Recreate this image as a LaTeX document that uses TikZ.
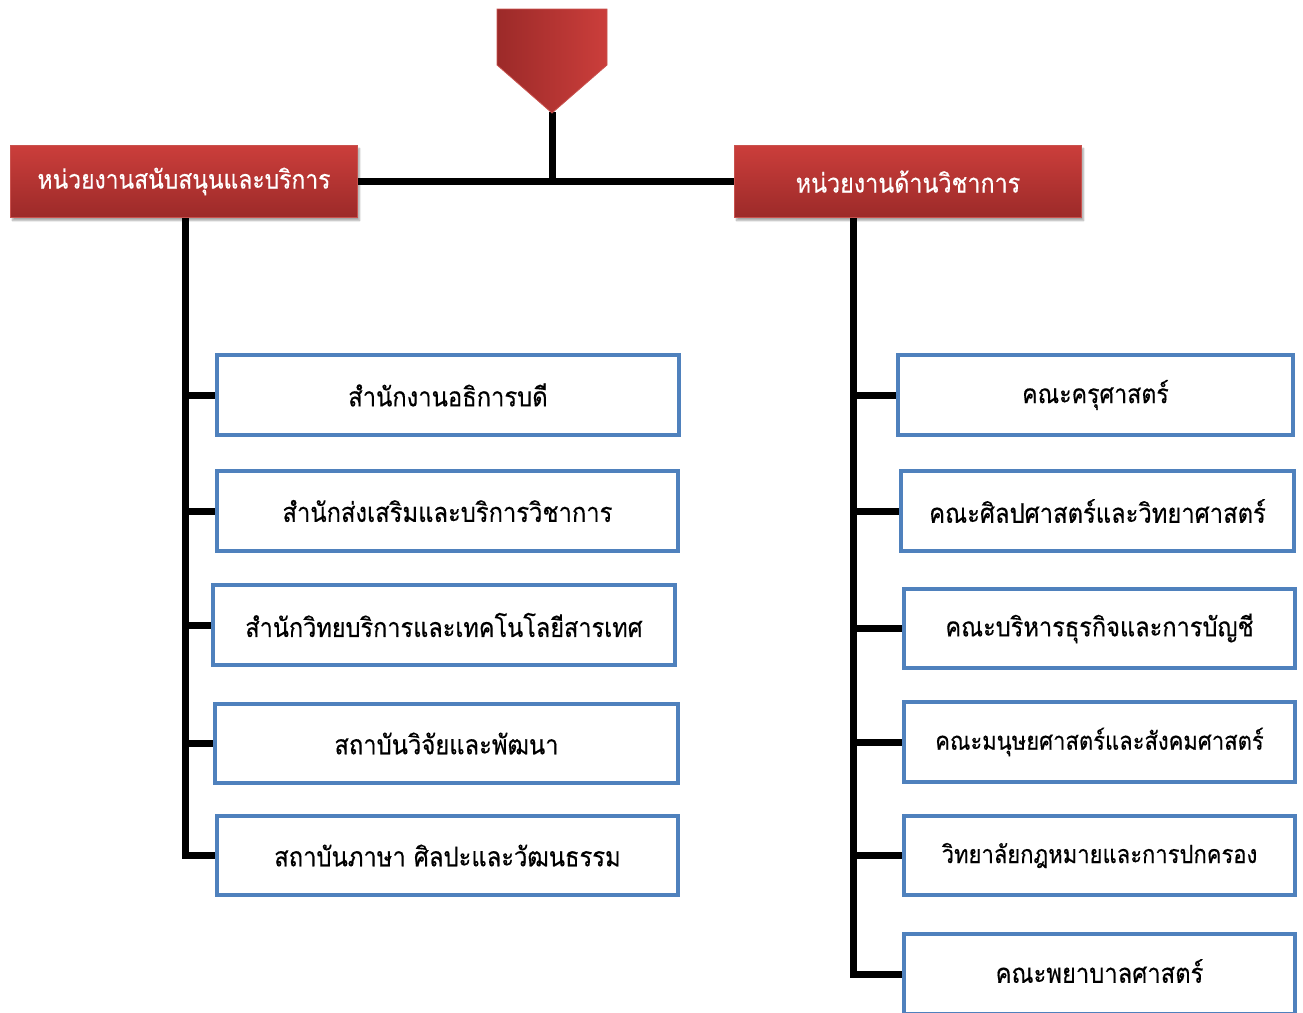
\documentclass[tikz,border=0pt]{standalone}
\usepackage{fontspec}
\newfontfamily\thai[Script=Thai,FakeStretch=0.88,FakeBold=0.4]{Loma}
\usetikzlibrary{shadows.blur}
\pgfdeclarelayer{background}
\pgfsetlayers{background,main}
\definecolor{boxblue}{HTML}{4F81BD}
\definecolor{redtop}{HTML}{CB3E3B}
\definecolor{redbot}{HTML}{9C2A29}
\definecolor{redline}{HTML}{C9524E}
\newcommand{\tsz}[1]{\thai\fontsize{#1}{#1}\selectfont}
\tikzset{
  redbox/.style={rectangle, draw=redline, line width=0.8pt, top color=redtop, bottom color=redbot,
    minimum width=347pt, minimum height=72pt, inner sep=0pt, text=white,
    font=\tsz{26.5},
    blur shadow={shadow xshift=2pt, shadow yshift=-3pt, shadow blur steps=6, shadow opacity=35}},
  bluebox/.style={rectangle, draw=boxblue, line width=4pt, fill=white,
    minimum height=80pt, inner sep=0pt, text=black, font=\tsz{27}},
  conn/.style={draw=black, line width=7pt, line join=miter}
}
\begin{document}
\begin{tikzpicture}[x=1pt,y=-1pt]
\useasboundingbox (0,0) rectangle (1303,1012);
\clip (0,0) rectangle (1303,1012);

% top pentagon
\shade[left color=redbot, right color=redtop, draw=redline, line width=0.8pt]
  (497,9) -- (607,9) -- (607,65) -- (552,113) -- (497,65) -- cycle;
\coordinate (top) at (552,112);
\coordinate (hub) at (552,181.5);

\node[redbox, font=\tsz{26}] (L) at (184,181.5) {หน่วยงานสนับสนุนและบริการ};
\node[redbox] (R) at (908,181.5) {หน่วยงานด้านวิชาการ};

% left boxes
\node[bluebox, minimum width=462pt] (l1) at (448,395) {สำนักงานอธิการบดี};
\node[bluebox, minimum width=461pt] (l2) at (447.5,511) {สำนักส่งเสริมและบริการวิชาการ};
\node[bluebox, minimum width=462pt, font=\tsz{26.7}] (l3) at (444,625) {สำนักวิทยบริการและเทคโนโลยีสารเทศ};
\node[bluebox, minimum width=463pt, minimum height=79pt] (l4) at (446.5,743.5) {สถาบันวิจัยและพัฒนา};
\node[bluebox, minimum width=461pt, minimum height=79pt] (l5) at (447.5,855.5) {สถาบันภาษา ศิลปะและวัฒนธรรม};

% right boxes
\node[bluebox, minimum width=395pt, font=\tsz{26.3}] (r1) at (1095.5,395) {คณะครุศาสตร์};
\node[bluebox, minimum width=393pt] (r2) at (1097.5,511) {คณะศิลปศาสตร์และวิทยาศาสตร์};
\node[bluebox, minimum width=391pt, minimum height=79pt, font=\tsz{26.8}] (r3) at (1099.5,628.5) {คณะบริหารธุรกิจและการบัญชี};
\node[bluebox, minimum width=391pt, minimum height=80pt, font=\tsz{25}] (r4) at (1099.5,742) {คณะมนุษยศาสตร์และสังคมศาสตร์};
\node[bluebox, minimum width=391pt, minimum height=79pt, font=\tsz{25}] (r5) at (1099.5,855.5) {วิทยาลัยกฎหมายและการปกครอง};
\node[bluebox, minimum width=391pt, minimum height=80pt, anchor=north] (r6) at (1099.5,932) {};
\node[text=black, font=\tsz{27}] (r6t) at (1099.5,971) {คณะพยาบาลศาสตร์};

\coordinate (lt) at (185,218);
\coordinate (rt) at (853,218);

\begin{pgfonlayer}{background}
  \draw[conn] (top) -- (hub);
  \draw[conn] (L.east) -- (R.west);
  % left trunk
  \draw[conn] (lt) |- (l5.west);
  \foreach \b in {l1,l2,l3,l4} \draw[conn] (lt |- \b.west) -- (\b.west);
  % right trunk
  \draw[conn] (rt) |- (r6.west);
  \foreach \b in {r1,r2,r3,r4,r5} \draw[conn] (rt |- \b.west) -- (\b.west);
\end{pgfonlayer}
\end{tikzpicture}
\end{document}
